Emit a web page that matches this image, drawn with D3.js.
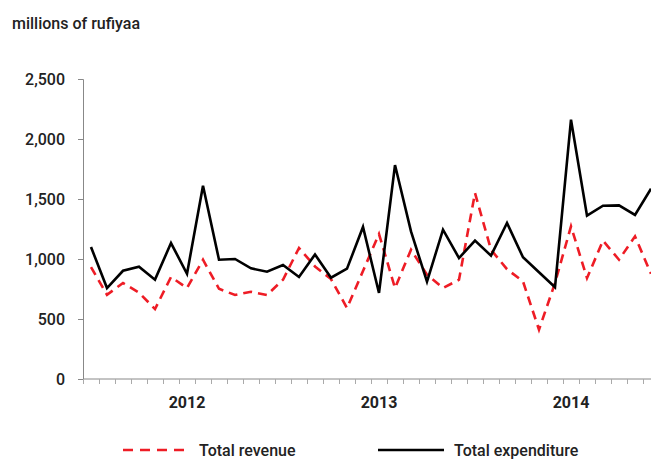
<!DOCTYPE html>
<html>
<head>
<meta charset="utf-8">
<script src="https://d3js.org/d3.v7.min.js"></script>
<style>
  body { margin: 0; background: #fff; }
  text { font-family: Roboto, "Liberation Sans", sans-serif; fill: #222; font-weight: 500; }
</style>
</head>
<body>
<script>
// monthly, Jan 2012 - Dec 2014
var years = ["2012", "2013", "2014"];
var months = [];
years.forEach(function (y) {
  for (var m = 1; m <= 12; m++) months.push(y + "-" + (m < 10 ? "0" + m : m));
});

var revenue = [933, 702, 800, 720, 583, 850, 758, 994, 752, 700, 727, 700,
               827, 1092, 938, 833, 592, 900, 1208, 758, 1077, 869, 758, 827,
               1550, 1077, 915, 813, 411, 800, 1272, 841, 1153, 994, 1189, 877];
var expenditure = [1100, 758, 902, 936, 828, 1133, 877, 1611, 994, 1000, 922, 894,
                   950, 850, 1038, 844, 919, 1267, 717, 1783, 1230, 811, 1244, 1008,
                   1153, 1028, 1300, 1014, 889, 764, 2161, 1361, 1444, 1447, 1367, 1586];
var yTicks = [0, 500, 1000, 1500, 2000, 2500];

var width = 651, height = 459;
var plotLeft = 83, plotTop = 79, plotBottom = 379;

var svg = d3.select("body").append("svg")
    .attr("width", width)
    .attr("height", height);

var x = d3.scaleBand()
    .domain(months)
    .range([plotLeft, plotLeft + 16 * months.length]);

var y = d3.scaleLinear()
    .domain([0, 2500])
    .range([plotBottom, plotTop]);

// y axis
var yAxis = svg.append("g")
    .attr("transform", "translate(" + plotLeft + ",0)")
    .call(d3.axisLeft(y).tickValues(yTicks).tickSize(5).tickPadding(13)
      .tickFormat(d3.format(",")));
yAxis.select(".domain").attr("stroke", "#888");
yAxis.selectAll(".tick line").attr("stroke", "#888");
yAxis.selectAll("text").style("font-size", "16px").attr("fill", "#222")
    .style("font-family", "Roboto, sans-serif");

// x axis: ticks between months
var xAxis = svg.append("g")
    .attr("transform", "translate(0," + plotBottom + ")");
xAxis.append("line")
    .attr("x1", plotLeft).attr("x2", width)
    .attr("stroke", "#888");
xAxis.selectAll(".mtick")
    .data(months)
    .enter().append("line")
    .attr("x1", function (d) { return x(d) + 0.5; })
    .attr("x2", function (d) { return x(d) + 0.5; })
    .attr("y1", 0).attr("y2", 5)
    .attr("stroke", "#aaa");
xAxis.selectAll(".year")
    .data(years)
    .enter().append("text")
    .attr("x", function (d) { return x(d + "-07") + x.bandwidth() / 2; })
    .attr("y", 29)
    .attr("text-anchor", "middle")
    .style("font-size", "16px")
    .style("font-weight", "bold")
    .attr("fill", "#222")
    .text(function (d) { return d; });

var line = d3.line()
    .x(function (d, i) { return x(months[i]) + x.bandwidth() / 2; })
    .y(function (d) { return y(d); });

svg.append("path")
    .attr("d", line(revenue))
    .attr("fill", "none")
    .attr("stroke", "#ee1c25")
    .attr("stroke-width", 2.6)
    .attr("stroke-dasharray", "9,6");

svg.append("path")
    .attr("d", line(expenditure))
    .attr("fill", "none")
    .attr("stroke", "#000")
    .attr("stroke-width", 2.6);

svg.append("text")
    .attr("x", 12).attr("y", 29)
    .style("font-size", "16px")
    .text("millions of rufiyaa");

// legend
var legend = [
  { name: "Total revenue", color: "#ee1c25", dash: "10,7", x: 123 },
  { name: "Total expenditure", color: "#000", dash: null, x: 378 }
];
var lg = svg.selectAll(".lg").data(legend).enter().append("g")
    .attr("transform", function (d) { return "translate(" + d.x + ",450)"; });
lg.append("line")
    .attr("x1", 0).attr("x2", 66)
    .attr("stroke", function (d) { return d.color; })
    .attr("stroke-width", 2.6)
    .attr("stroke-dasharray", function (d) { return d.dash; });
lg.append("text")
    .attr("x", 76).attr("y", 6)
    .style("font-size", "16px")
    .text(function (d) { return d.name; });
</script>
</body>
</html>
